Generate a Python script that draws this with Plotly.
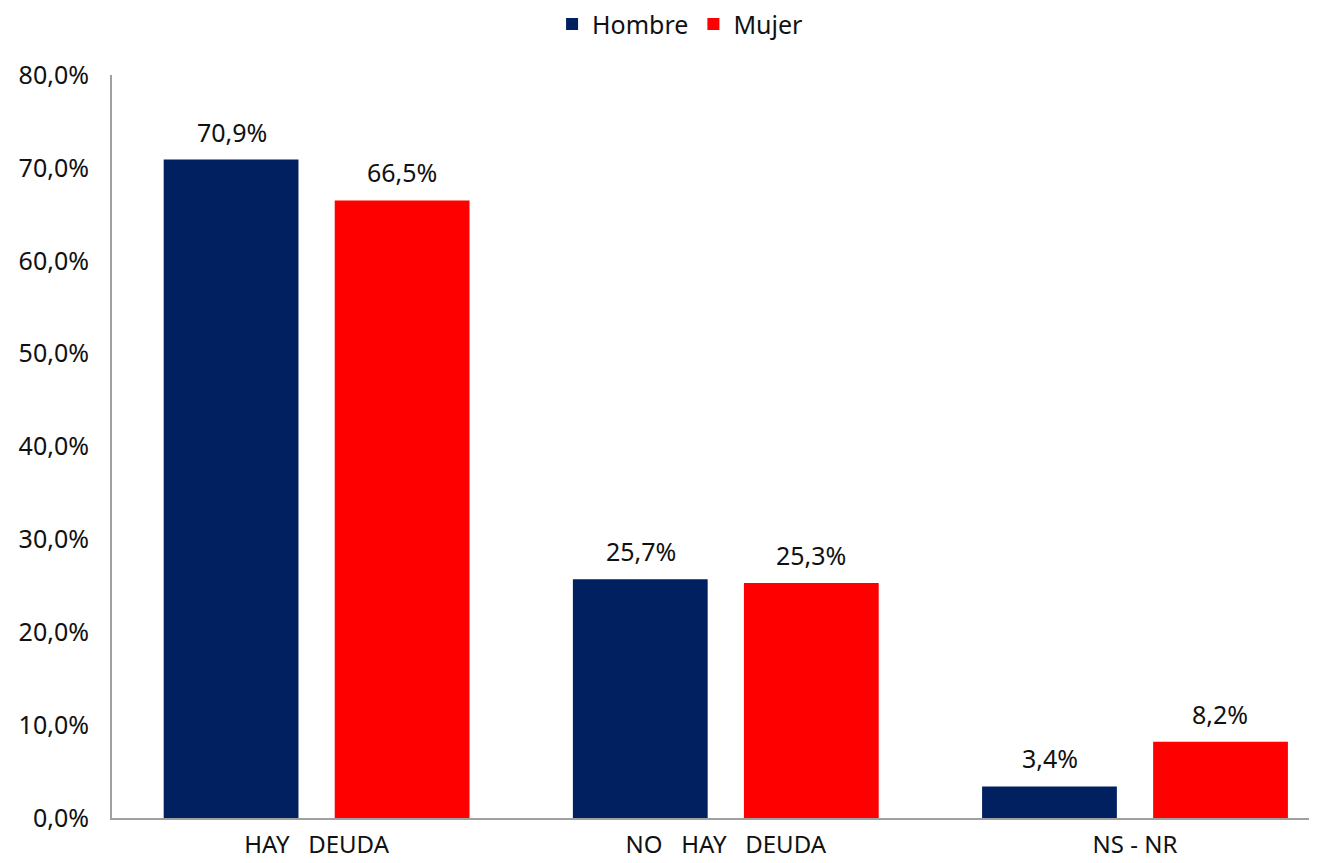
import plotly.graph_objects as go

categories = ["HAY\u00a0\u00a0\u00a0DEUDA", "NO\u00a0\u00a0\u00a0HAY\u00a0\u00a0\u00a0DEUDA", "NS\u00a0-\u00a0NR"]
hombre = [70.9, 25.7, 3.4]
mujer = [66.5, 25.3, 8.2]
tick_vals = [0, 10, 20, 30, 40, 50, 60, 70, 80]

def fmt(v):
    return f"{v:.1f}%".replace(".", ",")

FONT = "Noto Sans"
FS = 25
TXT = "#111111"

fig = go.Figure()
fig.add_trace(go.Bar(name="Hombre", x=categories, y=hombre, marker_color="#002060",
                     marker_line_width=0))
fig.add_trace(go.Bar(name="Mujer", x=categories, y=mujer, marker_color="#FF0000",
                     marker_line_width=0))

# data labels
for vals, shift in ((hombre, -85), (mujer, 85)):
    for c, v in zip(categories, vals):
        fig.add_annotation(x=c, y=v, xref="x", yref="y", text=fmt(v), showarrow=False,
                           xshift=shift, yanchor="bottom", yshift=9,
                           font=dict(size=FS, family=FONT, color=TXT))

fig.update_layout(
    width=1309, height=855,
    paper_bgcolor="white", plot_bgcolor="white",
    margin=dict(l=104, r=4, t=67, b=45, autoexpand=False),
    barmode="group", bargap=0.164, bargroupgap=0.212,
    font=dict(family=FONT, size=FS, color=TXT),
    legend=dict(orientation="h", x=0.473, xanchor="center", y=0.981, yanchor="middle",
                yref="container", font=dict(size=FS, family=FONT, color=TXT),
                itemwidth=30, traceorder="normal", borderwidth=0),
    xaxis=dict(showline=True, linecolor="#A0A0A0", linewidth=2, ticks="",
               tickfont=dict(size=24, family=FONT, color=TXT), showgrid=False,
               range=[-0.5, 2.435], ticklabelstandoff=4, automargin=False),
    yaxis=dict(range=[0, 80], tickvals=tick_vals,
               ticktext=[fmt(v) for v in tick_vals],
               showline=True, linecolor="#A0A0A0", linewidth=2, showgrid=False,
               ticks="", tickfont=dict(size=FS, family=FONT, color=TXT), zeroline=False,
               ticklabelstandoff=16, automargin=False),
)

fig.write_html("out.html")
